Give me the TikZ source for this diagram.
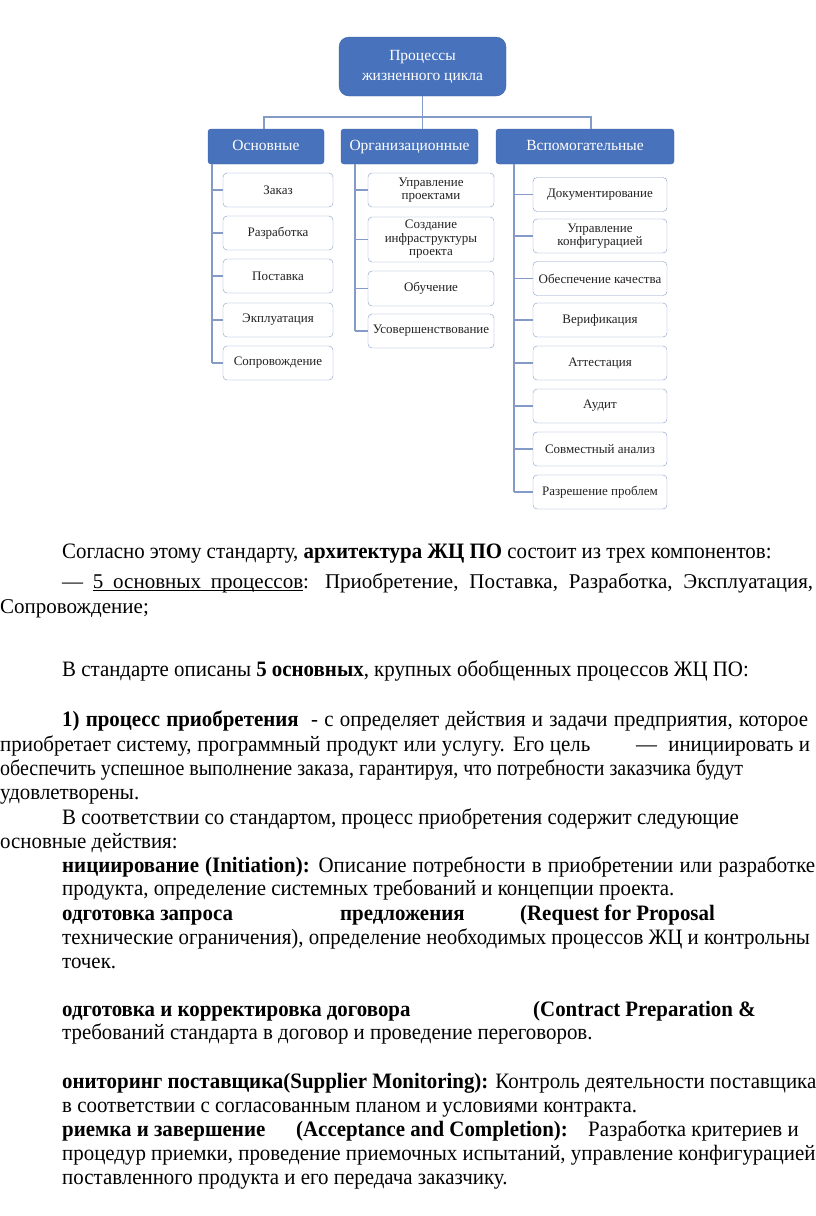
\documentclass[tikz,border=0pt]{standalone}
\usepackage{fontspec}
\setmainfont{Liberation Serif}
\newfontfamily\condfont[FakeStretch=0.95]{Liberation Serif}
\usetikzlibrary{positioning}

\definecolor{procblue}{RGB}{72,114,188}
\definecolor{procedge}{RGB}{60,98,168}
\definecolor{linkblue}{RGB}{132,155,200}
\definecolor{itemtext}{RGB}{35,35,35}

\newcommand{\bodysize}{\fontsize{22}{24}\selectfont}
% underlined word and underlined stretchable space
\newcommand{\ulword}[1]{\setbox0\hbox{#1}\rlap{\rule[-3.2pt]{\wd0}{0.8pt}}\box0}
\newcommand{\ulspace}{\leaders\hrule height -2.4pt depth 3.2pt\hskip 0.25em plus 0.125em minus 0.08em}

\begin{document}
\begin{tikzpicture}[x=1pt,y=-1pt]
    % Styles
    \tikzset{
      head box/.style={draw=procedge, fill=procblue, text=white, align=center, inner sep=0pt},
      group box/.style={head box, rounded corners=3pt, minimum height=35pt,
        text height=10.5pt, text depth=3pt, font=\fontsize{15.5}{17}\selectfont},
      item box/.style={draw=linkblue, fill=white, rounded corners=4pt, text=itemtext, align=center,
        inner sep=0pt, font=\fontsize{13}{13.5}\selectfont},
      link/.style={draw=linkblue, line width=1.4pt},
      para line/.style={anchor=base west, inner sep=0pt, font=\bodysize\condfont}
    }
    \useasboundingbox (0,0) rectangle (816,1216);
    \clip (0,0) rectangle (816,1216);

    % --- Level 0: Root ---
    \node[head box, rounded corners=10pt, minimum width=167pt, minimum height=59pt,
          font=\fontsize{15.5}{20}\selectfont] (root) at (422.5,66.5) {Процессы\\жизненного цикла};

    % --- Level 1: Groups ---
    \node[group box, minimum width=116pt] (osn) at (266,146.5) {Основные};
    \node[group box, minimum width=137pt] (org) at (409.5,146.5) {Организационные};
    \node[group box, minimum width=178pt] (vsp) at (585,146.5) {Вспомогательные};

    % Edges from Root
    \coordinate (busy) at (0,117);
    \draw[link] (root.south) -- (root.south |- org.north);
    \draw[link] ([xshift=-2pt]osn.north) |- (root.south |- busy) -| ([xshift=6pt]vsp.north);

    % --- Level 2: Items ---
    \coordinate (osnspine) at ([xshift=4pt]osn.south west);
    \coordinate (orgspine) at ([xshift=14pt]org.south west);
    \coordinate (vspspine) at ([xshift=18pt]vsp.south west);

    \foreach \y/\nm/\txt in {190/zak/Заказ, 233/razr/Разработка, 276/post/Поставка,
                             320/expl/Экплуатация, 363/sopr/Сопровождение} {
      \node[item box, minimum width=110pt, minimum height=34pt] (\nm) at (278,\y) {\txt};
      \draw[link] (osnspine |- \nm.west) -- (\nm.west);
    }
    \draw[link] (osnspine) -- (osnspine |- sopr.west);

    \foreach \y/\h/\nm/\txt in {190/34/uprp/{Управление\\проектами},
                                239.5/45/infr/{Создание\\инфраструктуры\\проекта},
                                288.5/35/obuch/Обучение, 331/34/usov/Усовершенствование} {
      \node[item box, minimum width=126pt, minimum height=\h pt] (\nm) at (431,\y) {\txt};
      \draw[link] (orgspine |- \nm.west) -- (\nm.west);
    }
    \draw[link] (orgspine) -- (orgspine |- usov.west);

    \foreach \y/\nm/\txt in {194.5/doc/Документирование, 236/konf/{Управление\\конфигурацией},
                             278.5/kach/Обеспечение качества, 320/ver/Верификация,
                             363/att/Аттестация, 406/aud/Аудит,
                             449/sovm/Совместный анализ, 492/razp/Разрешение проблем} {
      \node[item box, minimum width=134pt, minimum height=34pt] (\nm) at (600,\y) {\txt};
      \draw[link] (vspspine |- \nm.west) -- (\nm.west);
    }
    \draw[link] (vspspine) -- (vspspine |- razp.west);

    % --- Text below the diagram ---
    \node[para line] (t1) at (62,558) {Согласно этому стандарту, \textbf{архитектура ЖЦ ПО} состоит из трех компонентов:};
    \node[para line, font=\fontsize{21}{24}\selectfont\rmfamily] (t2) at (62,588)
      {\makebox[751pt][s]{— \ulword{5}\ulspace\ulword{основных}\ulspace\ulword{процессов}: Приобретение, Поставка, Разработка, Эксплуатация,}};
    \node[para line, font=\fontsize{21}{24}\selectfont\rmfamily] (t3) at (0,613) {Сопровождение;};

    \node[para line] (t4) at (62,676) {В стандарте описаны \textbf{5 основных}, крупных обобщенных процессов ЖЦ ПО:};

    \node[para line] (t5) at (62,726)
      {\makebox[746pt][s]{\textbf{1) процесс приобретения}\ \ - с определяет действия и задачи предприятия, которое}};
    \node[para line] (t6) at (0,751)
      {\makebox[810pt][s]{приобретает систему, программный продукт или услугу. Его цель\hspace{40pt} —\ \ инициировать и}};
    \node[para line] (t7) at (0,775)
      {\scalebox{0.955}[1]{обеспечить успешное выполнение заказа, гарантируя, что потребности заказчика будут}};
    \node[para line] (t8) at (0,799) {удовлетворены.};
    \node[para line] (t9) at (62,824) {В соответствии со стандартом, процесс приобретения содержит следующие};
    \node[para line] (t10) at (0,848) {основные действия:};

    \node[para line] (t11) at (62,872)
      {\makebox[753pt][s]{\textbf{нициирование (Initiation):} Описание потребности в приобретении или разработке}};
    \node[para line] (t12) at (62,895) {продукта, определение системных требований и концепции проекта.};
    \node[para line] (t13) at (62,920)
      {\makebox[278pt][l]{\textbf{одготовка запроса}}\makebox[180pt][l]{\textbf{предложения}}\textbf{(Request for Proposal}};
    \node[para line] (t14) at (62,944) {технические ограничения), определение необходимых процессов ЖЦ и контрольны};
    \node[para line] (t15) at (62,968) {точек.};

    \node[para line] (t16) at (62,1016)
      {\makebox[471pt][l]{\textbf{одготовка и корректировка договора}}\textbf{(Contract Preparation \&}};
    \node[para line] (t17) at (62,1039) {требований стандарта в договор и проведение переговоров.};

    \node[para line] (t18) at (62,1088) {\textbf{ониторинг поставщика(Supplier Monitoring):} Контроль деятельности поставщика};
    \node[para line] (t19) at (62,1112) {в соответствии с согласованным планом и условиями контракта.};
    \node[para line] (t20) at (62,1136)
      {\makebox[234pt][l]{\textbf{риемка и завершение}}\makebox[292pt][l]{\textbf{(Acceptance and Completion):}}Разработка критериев и};
    \node[para line] (t21) at (62,1160) {процедур приемки, проведение приемочных испытаний, управление конфигурацией};
    \node[para line] (t22) at (62,1184) {поставленного продукта и его передача заказчику.};
\end{tikzpicture}
\end{document}
